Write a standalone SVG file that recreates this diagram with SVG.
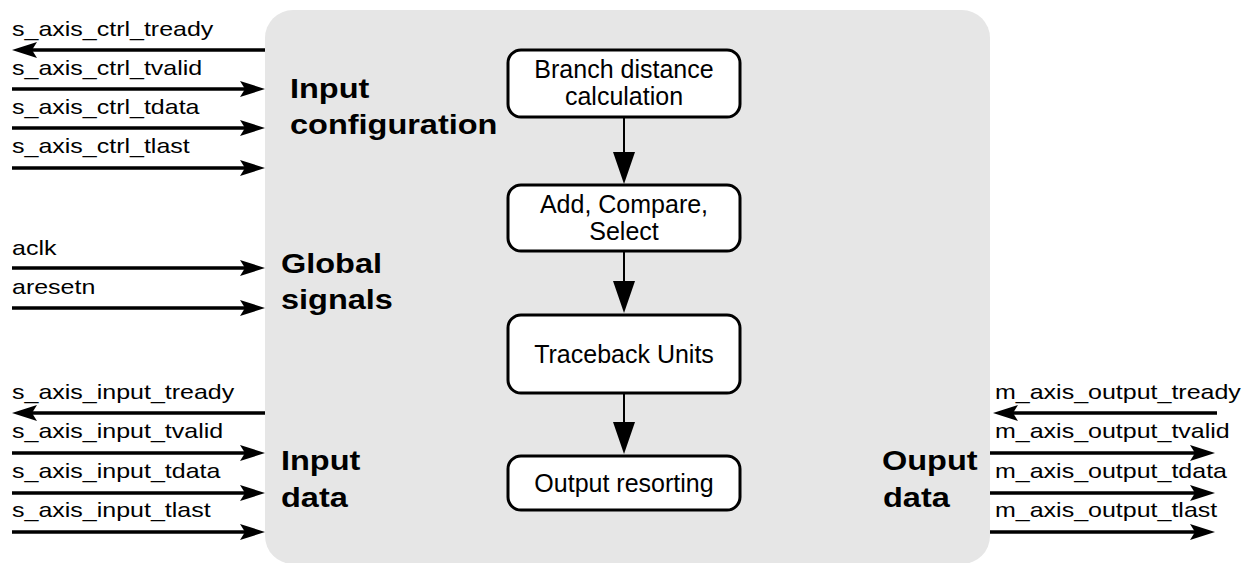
<svg xmlns="http://www.w3.org/2000/svg" width="1260" height="563" viewBox="0 0 1260 563">
<defs>
<style>
.sig{font-family:"Liberation Sans",Arial,sans-serif;font-size:21px;fill:#000}
.grp{font-family:"Liberation Sans",Arial,sans-serif;font-size:28px;font-weight:bold;fill:#000}
.box{fill:#fff;stroke:#000;stroke-width:3}
.btxt{font-family:"Liberation Sans",Arial,sans-serif;font-size:25px;fill:#000;text-anchor:middle}
.wire{stroke:#000;stroke-width:3.5;fill:none;marker-end:url(#sa)}
.flow{stroke:#000;stroke-width:2;fill:none;marker-end:url(#fa)}
</style>
<marker id="sa" markerUnits="userSpaceOnUse" markerWidth="26" markerHeight="18" viewBox="0 0 26 18" refX="10" refY="9" orient="auto"><path d="M0,1 L25,9 L0,17 L5,9 Z" fill="#000"/></marker>
<marker id="fa" markerUnits="userSpaceOnUse" markerWidth="33" markerHeight="24" viewBox="0 0 33 24" refX="12" refY="12" orient="auto"><path d="M0,1 L32,12 L0,23 Z" fill="#000"/></marker>
</defs>
<rect width="1260" height="563" fill="#fff"/>
<g id="core">
<rect x="265" y="10" width="725" height="554" rx="28" fill="#e6e6e6"/>
</g>
<g id="labels-groups">
<text class="grp" transform="translate(290,98) scale(1.16 1)">Input</text>
<text class="grp" transform="translate(290,134) scale(1.16 1)">configuration</text>
<text class="grp" transform="translate(281,273) scale(1.16 1)">Global</text>
<text class="grp" transform="translate(281,309) scale(1.16 1)">signals</text>
<text class="grp" transform="translate(281,470) scale(1.16 1)">Input</text>
<text class="grp" transform="translate(281,507) scale(1.16 1)">data</text>
<text class="grp" transform="translate(882,470) scale(1.16 1)">Ouput</text>
<text class="grp" transform="translate(883,507) scale(1.16 1)">data</text>
</g>
<g id="node-bdc">
<rect class="box" x="508" y="50" width="232" height="67" rx="13"/>
<text class="btxt" x="624" y="78">Branch distance</text>
<text class="btxt" x="624" y="105">calculation</text>
</g>
<g id="node-acs">
<rect class="box" x="508" y="185" width="232" height="66" rx="13"/>
<text class="btxt" x="624" y="213">Add, Compare,</text>
<text class="btxt" x="624" y="240">Select</text>
</g>
<g id="node-tb">
<rect class="box" x="508" y="315" width="232" height="78" rx="13"/>
<text class="btxt" x="624" y="363">Traceback Units</text>
</g>
<g id="node-or">
<rect class="box" x="508" y="456" width="232" height="54" rx="13"/>
<text class="btxt" x="624" y="492">Output resorting</text>
</g>
<g id="connectors">
<path class="flow" d="M624,117 V164"/>
<path class="flow" d="M624,251 V293"/>
<path class="flow" d="M624,393 V434"/>
<path class="wire" d="M265,50 H27"/>
<path class="wire" d="M12,89 H250"/>
<path class="wire" d="M12,128 H250"/>
<path class="wire" d="M12,168 H250"/>
<path class="wire" d="M12,268 H250"/>
<path class="wire" d="M12,308 H250"/>
<path class="wire" d="M265,413 H27"/>
<path class="wire" d="M12,453 H250"/>
<path class="wire" d="M12,493 H250"/>
<path class="wire" d="M12,532 H250"/>
<path class="wire" d="M1217,413 H1008"/>
<path class="wire" d="M990,453 H1200"/>
<path class="wire" d="M990,493 H1200"/>
<path class="wire" d="M990,532 H1200"/>
</g>
<g id="signal-labels">
<text class="sig" transform="translate(12,36) scale(1.19 1)">s_axis_ctrl_tready</text>
<text class="sig" transform="translate(12,75) scale(1.19 1)">s_axis_ctrl_tvalid</text>
<text class="sig" transform="translate(12,114) scale(1.19 1)">s_axis_ctrl_tdata</text>
<text class="sig" transform="translate(12,153) scale(1.19 1)">s_axis_ctrl_tlast</text>
<text class="sig" transform="translate(12,255) scale(1.19 1)">aclk</text>
<text class="sig" transform="translate(12,294) scale(1.19 1)">aresetn</text>
<text class="sig" transform="translate(12,399) scale(1.19 1)">s_axis_input_tready</text>
<text class="sig" transform="translate(12,438) scale(1.19 1)">s_axis_input_tvalid</text>
<text class="sig" transform="translate(12,478) scale(1.19 1)">s_axis_input_tdata</text>
<text class="sig" transform="translate(12,517) scale(1.19 1)">s_axis_input_tlast</text>
<text class="sig" transform="translate(995,399) scale(1.19 1)">m_axis_output_tready</text>
<text class="sig" transform="translate(995,438) scale(1.19 1)">m_axis_output_tvalid</text>
<text class="sig" transform="translate(995,478) scale(1.19 1)">m_axis_output_tdata</text>
<text class="sig" transform="translate(995,517) scale(1.19 1)">m_axis_output_tlast</text>
</g>
</svg>
